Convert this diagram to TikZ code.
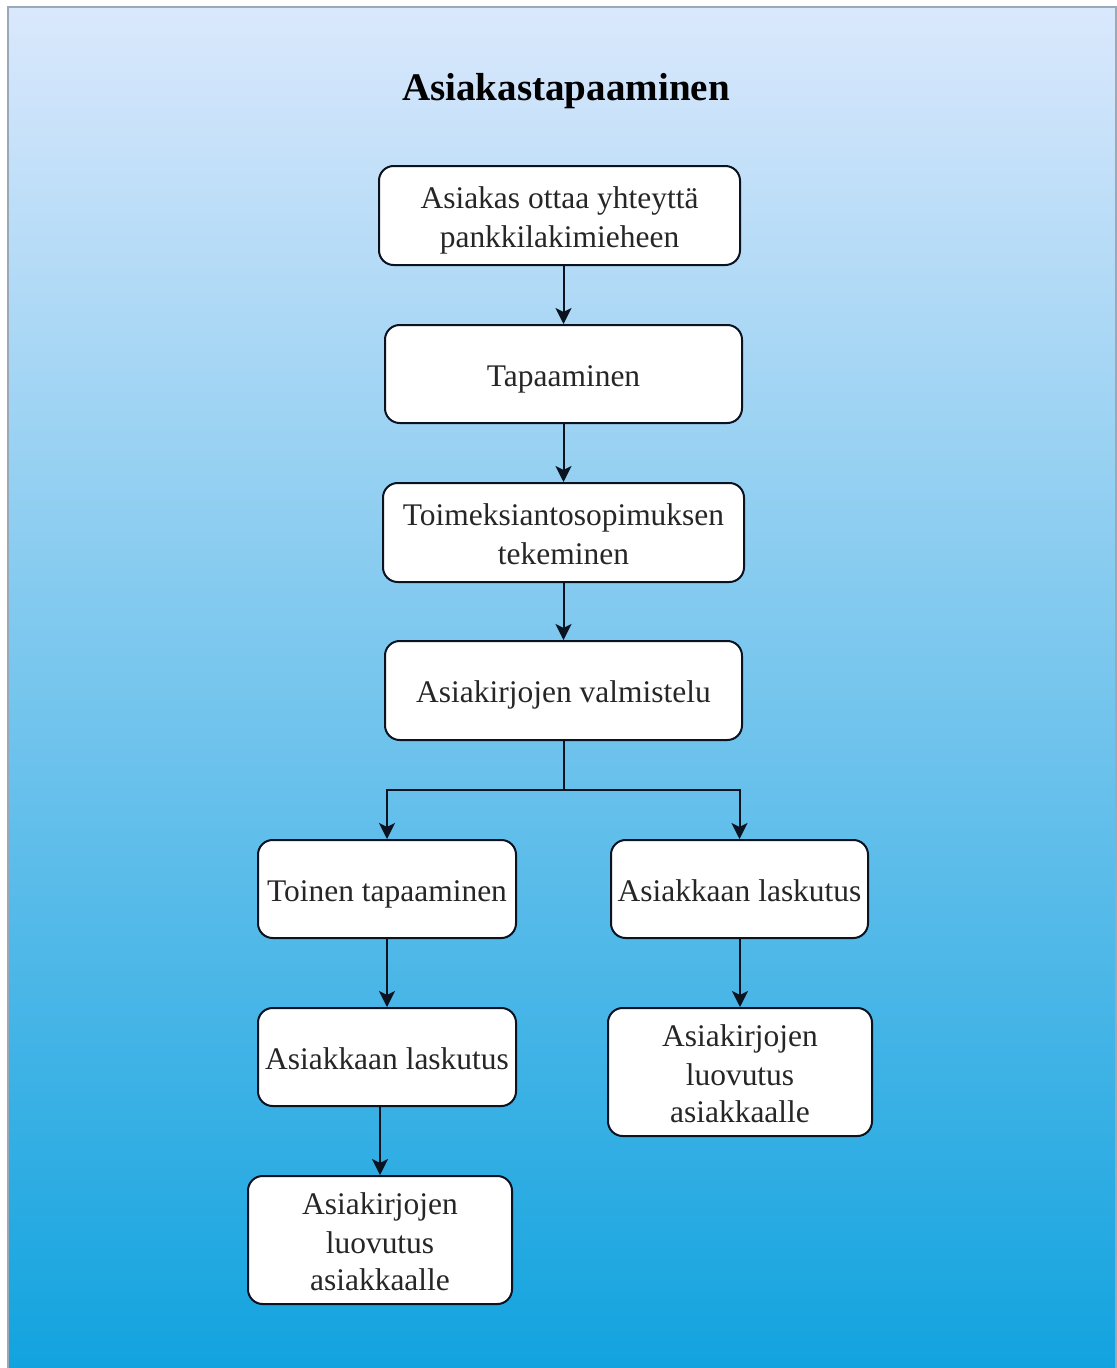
\documentclass[tikz,border=0pt]{standalone}
\usepackage{fontspec}
\setmainfont{Liberation Serif}
\usetikzlibrary{arrows.meta}
\definecolor{bgtop}{HTML}{DAE8FC}
\definecolor{bgbottom}{HTML}{12A3DF}
\definecolor{framec}{HTML}{9AA8B8}
\definecolor{inkc}{HTML}{0B1220}
\definecolor{textc}{HTML}{262626}
% fixed line box (height 23.2pt, depth 4.6pt) so every line sits at the same place
\newcommand\linebox{\rule[-4.6pt]{0pt}{27.8pt}}

\begin{document}
\begin{tikzpicture}[x=0.75pt,y=-0.75pt,
  stepbox/.style={draw=inkc, line width=1.5pt, rounded corners=11pt, fill=white,
    align=center, inner sep=0pt, text=textc,
    font=\fontsize{23.6}{27.8}\selectfont},
  flow/.style={draw=inkc, line width=1.5pt,
    -{Stealth[length=12pt,width=12pt,inset=3pt]}}]
% page and gradient panel
\useasboundingbox (0,0) rectangle (1117,1368);
\shade[top color=bgtop, bottom color=bgbottom] (8,7) rectangle (1116,1368);
\draw[framec, line width=1.5pt] (1116,1380) -- (1116,7) -- (8,7) -- (8,1380);

% title
\node[font=\bfseries\fontsize{29.3}{35}\selectfont, text=black, anchor=base]
  (title) at (566,100) {Asiakastapaaminen};

% process steps
\node[stepbox, minimum width=270.75pt, minimum height=74.25pt] (b1) at (559.5,215.5)
  {\linebox Asiakas ottaa yhteyttä\\\linebox pankkilakimieheen};
\node[stepbox, minimum width=267.75pt, minimum height=73.5pt] (b2) at (563.5,374)
  {\linebox Tapaaminen};
\node[stepbox, minimum width=270.75pt, minimum height=74.25pt] (b3) at (563.5,532.5)
  {\linebox Toimeksiantosopimuksen\\\linebox tekeminen};
\node[stepbox, minimum width=267.75pt, minimum height=74.25pt] (b4) at (563.5,690.5)
  {\linebox Asiakirjojen valmistelu};
\node[stepbox, minimum width=193.5pt, minimum height=73.5pt] (b5) at (387,889)
  {\linebox Toinen tapaaminen};
\node[stepbox, minimum width=192.75pt, minimum height=73.5pt] (b6) at (739.5,889)
  {\linebox Asiakkaan laskutus};
\node[stepbox, minimum width=193.5pt, minimum height=73.5pt] (b7) at (387,1057)
  {\linebox Asiakkaan laskutus};
\node[stepbox, minimum width=198pt, minimum height=96pt] (b8) at (740,1072)
  {\linebox Asiakirjojen\\\linebox luovutus\\\linebox asiakkaalle};
\node[stepbox, minimum width=198pt, minimum height=96pt] (b9) at (380,1240)
  {\linebox Asiakirjojen\\\linebox luovutus\\\linebox asiakkaalle};

% connectors
\draw[flow] (b1.south -| b2.north) -- (b2.north);
\draw[flow] (b2.south) -- (b3.north);
\draw[flow] (b3.south) -- (b4.north);
\coordinate (fork) at (563.5,790);
\draw[flow] (b4.south) -- (fork) -| (b5.north);
\draw[flow] (fork) -| (b6.north);
\draw[flow] (b5.south) -- (b7.north);
\draw[flow] (b7.south -| b9.north) -- (b9.north);
\draw[flow] (b6.south -| b8.north) -- (b8.north);
\end{tikzpicture}
\end{document}
